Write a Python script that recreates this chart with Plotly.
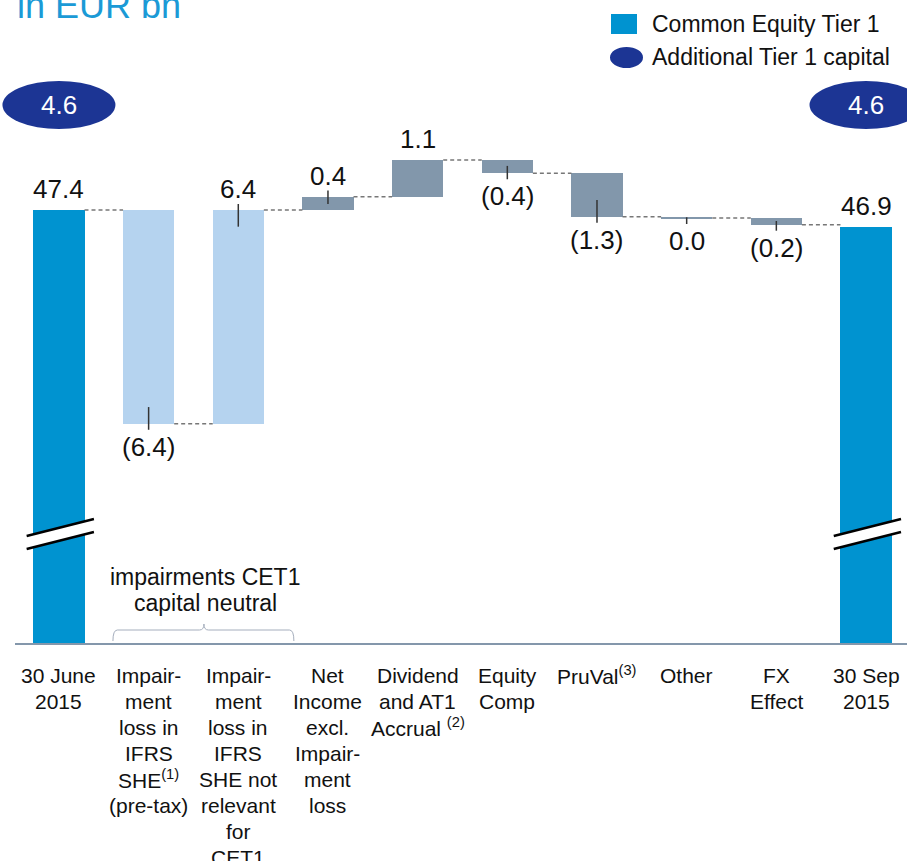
import plotly.graph_objects as go

# --- data -----------------------------------------------------------------
categories = [
    "30 June<br>2015",
    "Impair-<br>ment<br>loss in<br>IFRS<br>SHE<sup>(1)</sup><br>(pre-tax)",
    "Impair-<br>ment<br>loss in<br>IFRS<br>SHE not<br>relevant<br>for<br>CET1",
    "Net<br>Income<br>excl.<br>Impair-<br>ment<br>loss",
    "Dividend<br>and AT1<br>Accrual <sup>(2)</sup>",
    "Equity<br>Comp",
    "PruVal<sup>(3)</sup>",
    "Other",
    "FX<br>Effect",
    "30 Sep<br>2015",
]
start_value = 47.4
deltas = [-6.4, 6.4, 0.4, 1.1, -0.4, -1.3, -0.04, -0.2]
end_value = 46.9
at1_values = [4.6, 4.6]
legend_labels = ["Common Equity Tier 1", "Additional Tier 1 capital"]
bracket_lines = ["impairments CET1", "capital neutral"]
title_text = "in EUR bn"

# --- style ----------------------------------------------------------------
CET1_BLUE = "#0093D0"
LIGHT_BLUE = "#B5D3EF"
GREY_BLUE = "#8297AB"
NAVY = "#1C3594"
FONT = "Liberation Sans, Arial, sans-serif"
BAR_W = 0.57
Y_FLOOR = 30
X_RANGE = [-0.49, 9.457]
Y_RANGE = [34.436, 53.687]
PLOT_LEFT, PLOT_RIGHT, PLOT_TOP, PLOT_BOTTOM = 15, 907, 0, 643


def px(p):
    return (p - PLOT_LEFT) / (PLOT_RIGHT - PLOT_LEFT)


def py(p):
    return (PLOT_BOTTOM - p) / (PLOT_BOTTOM - PLOT_TOP)


def xp(v):
    # category position -> paper x
    return (v - X_RANGE[0]) / (X_RANGE[1] - X_RANGE[0])


def fmt(v):
    r = round(v, 1)
    return f"({abs(r):.1f})" if r < 0 else f"{abs(r):.1f}"


n = len(categories)
xs = list(range(n))
last = n - 1

bases, heights, levels = [Y_FLOOR], [start_value - Y_FLOOR], [start_value]
run = start_value
for d in deltas:
    bases.append(min(run, run + d))
    heights.append(abs(d))
    run += d
    levels.append(run)
bases.append(Y_FLOOR)
heights.append(end_value - Y_FLOOR)
levels.append(end_value)

colors = [CET1_BLUE, LIGHT_BLUE, LIGHT_BLUE] + [GREY_BLUE] * (n - 4) + [CET1_BLUE]

fig = go.Figure()
fig.add_trace(go.Bar(x=xs, y=heights, base=bases, width=BAR_W,
                     marker=dict(color=colors, line=dict(width=0)),
                     hoverinfo="skip", showlegend=False))

# connectors
cx, cy = [], []
for i in range(n - 1):
    cx += [i + BAR_W / 2, i + 1 - BAR_W / 2, None]
    cy += [levels[i], levels[i], None]
fig.add_trace(go.Scatter(x=cx, y=cy, mode="lines", hoverinfo="skip", showlegend=False,
                         line=dict(color="#777777", width=1.5, dash="4px,3px")))

# leader ticks and value labels
lx, ly = [], []
annotations = []
OUT = 0.18
for k, d in enumerate(deltas):
    i = k + 1
    edge = levels[i]
    inner = min(0.5, 0.55 * abs(d))
    up = d > 0
    if i != 4:
        if up:
            lx += [i, i, None]
            ly += [edge - inner, edge + OUT, None]
        else:
            lx += [i, i, None]
            ly += [edge + inner, edge - OUT, None]
    annotations.append(dict(x=i, y=edge, text=fmt(d), showarrow=False, xanchor="center",
                            yanchor="middle", yshift=21 if up else -23,
                            font=dict(size=26, color="#111111")))
for i, v in ((0, start_value), (last, end_value)):
    annotations.append(dict(x=i, y=v, text=fmt(v), showarrow=False, xanchor="center",
                            yanchor="middle", yshift=21, font=dict(size=26, color="#111111")))
fig.add_trace(go.Scatter(x=lx, y=ly, mode="lines", hoverinfo="skip", showlegend=False,
                         line=dict(color="#333333", width=1.5)))

shapes = []
# AT1 ellipses
for i, v in zip((0, last), at1_values):
    shapes.append(dict(type="circle", xref="paper", yref="paper", x0=xp(i - 0.63), x1=xp(i + 0.63),
                       y0=py(129), y1=py(81), fillcolor=NAVY, line=dict(width=0)))
    annotations.append(dict(x=xp(i), y=py(105), xref="paper", yref="paper", text=fmt(v),
                            showarrow=False, xanchor="center", yanchor="middle",
                            font=dict(size=26, color="white")))

# axis break marks
for i in (0, last):
    xl, xr = xp(i - 0.36), xp(i + 0.39)
    shapes.append(dict(type="path", xref="paper", yref="paper",
                       path=f"M {xl},{py(536)} L {xr},{py(519)} L {xr},{py(532)} L {xl},{py(549)} Z",
                       fillcolor="white", line=dict(width=0)))
    for a, b in ((536, 519), (549, 532)):
        shapes.append(dict(type="line", xref="paper", yref="paper", x0=xl, y0=py(a), x1=xr, y1=py(b),
                           line=dict(color="black", width=2.5)))

# bracket under impairment bars
b0, bm, b1 = xp(0.602), xp(1.617), xp(2.62)
e = xp(0.05) - xp(0)
yb, yh, yp = py(641), py(630), py(624)
shapes.append(dict(type="path", xref="paper", yref="paper",
                   path=(f"M {b0},{yb} Q {b0},{yh} {b0 + e},{yh} L {bm - e},{yh} "
                         f"Q {bm},{yh} {bm},{yp} Q {bm},{yh} {bm + e},{yh} "
                         f"L {b1 - e},{yh} Q {b1},{yh} {b1},{yb}"),
                   line=dict(color="#A5AEBD", width=1)))
for k, line in enumerate(bracket_lines):
    annotations.append(dict(x=xp(1.63), y=py(577 + 26 * k), xref="paper", yref="paper", text=line,
                            showarrow=False, xanchor="center", yanchor="middle",
                            font=dict(size=23, color="#111111")))

# category labels, one line at a time
for i, lab in enumerate(categories):
    for k, line in enumerate(lab.split("<br>")):
        annotations.append(dict(x=xp(i), y=py(675 + 26 * k), xref="paper", yref="paper", text=line,
                                showarrow=False, xanchor="center", yanchor="middle",
                                font=dict(size=21, color="#111111")))

# legend
shapes.append(dict(type="rect", xref="paper", yref="paper", x0=px(611), x1=px(637),
                   y0=py(34), y1=py(14), fillcolor=CET1_BLUE, line=dict(width=0)))
shapes.append(dict(type="circle", xref="paper", yref="paper", x0=px(610), x1=px(643),
                   y0=py(68), y1=py(47), fillcolor=NAVY, line=dict(width=0)))
for label, yc in zip(legend_labels, (24, 57)):
    annotations.append(dict(x=px(650), y=py(yc), xref="paper", yref="paper", text=label,
                            showarrow=False, xanchor="left", yanchor="middle",
                            font=dict(size=23, color="#111111")))

# title
annotations.append(dict(x=0, y=py(28), xref="paper", yref="paper", text=title_text,
                        showarrow=False, xanchor="left", yanchor="bottom",
                        font=dict(size=36, color="#1B9AD6")))

fig.update_layout(
    width=907,
    height=861,
    autosize=False,
    margin=dict(l=PLOT_LEFT, r=0, t=PLOT_TOP, b=861 - PLOT_BOTTOM),
    paper_bgcolor="white",
    plot_bgcolor="white",
    font=dict(family=FONT, color="#111111"),
    showlegend=False,
    shapes=shapes,
    annotations=annotations,
    bargap=0,
)
fig.update_xaxes(range=X_RANGE, showline=True, linecolor="#8497AB", linewidth=2,
                 showgrid=False, zeroline=False, showticklabels=False, ticks="")
fig.update_yaxes(range=Y_RANGE, showgrid=False, zeroline=False, showticklabels=False,
                 ticks="", showline=False)

fig.write_html("out.html", config={"displayModeBar": False},
               post_script="document.body.style.margin='0';")
